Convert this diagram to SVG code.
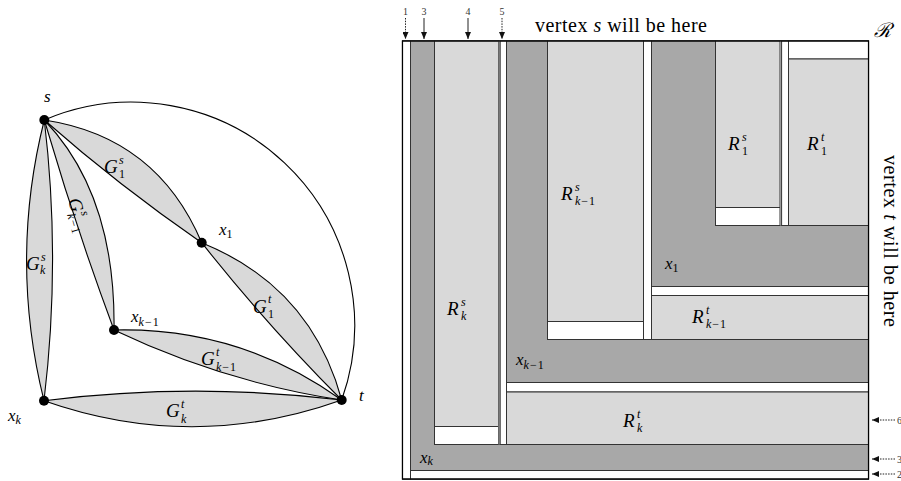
<svg xmlns="http://www.w3.org/2000/svg" width="901" height="481" viewBox="0 0 901 481">
<style>
  .lens { fill: #d9d9d9; stroke: #000; stroke-width: 1.1; }
  .edge { fill: none; stroke: #000; stroke-width: 1.1; }
  .node { fill: #000; }
  .m { font-family: 'Liberation Serif', serif; font-style: italic; font-size: 19px; fill: #000; }
  .sc { font-size: 12px; }
  .rm { font-style: normal; }
  .txt { font-family: 'Liberation Serif', serif; font-size: 20px; fill: #000; }
  .num { font-family: 'Liberation Serif', serif; font-size: 10px; fill: #333; }
  .dark { fill: #a8a8a8; stroke: #333; stroke-width: 1; }
  .light { fill: #d9d9d9; stroke: #333; stroke-width: 1; }
  .gap { fill: #fff; stroke: #333; stroke-width: 1; }
  .arr { stroke: #222; stroke-width: 1; fill: none; marker-end: url(#ah); }
  .dash { stroke-dasharray: 1.5 1.2; }
</style>
<defs>
  <marker id="ah" markerUnits="userSpaceOnUse" markerWidth="7" markerHeight="6" refX="7" refY="3" orient="auto">
    <path d="M0,0 L7,3 L0,6 Z" fill="#111"/>
  </marker>
</defs>
<rect width="901" height="481" fill="#fff"/>

<!-- Left: graph -->
<g id="connectors">
  <path class="edge" d="M44.3,120 A223,223 0 0 1 341.7,400"/>
  <path class="lens" d="M44.3,120 Q157,137 201.7,242.7 Q119.3,186 44.3,120 Z"/>
  <path class="lens" d="M201.7,242.7 Q311,287 341.7,400 Q267.2,325.4 201.7,242.7 Z"/>
  <path class="lens" d="M44.3,120 Q116,195 114,330 Q75.4,226.3 44.3,120 Z"/>
  <path class="lens" d="M44.3,120 Q61,260 44,400.7 Q9,260 44.3,120 Z"/>
  <path class="lens" d="M114,330 Q240,327 341.7,400 Q223,382 114,330 Z"/>
  <path class="lens" d="M44,400.7 Q193,382 341.7,400 Q193,453 44,400.7 Z"/>
</g>
<g id="edge-labels" font-family="Liberation Serif, serif" font-style="italic">
  <text class="m" x="104" y="173">G<tspan class="sc" x="119" y="164">s</tspan><tspan class="sc rm" x="119" y="178">1</tspan></text>
  <text class="m" x="253" y="313">G<tspan class="sc" x="268" y="303">t</tspan><tspan class="sc rm" x="268" y="318">1</tspan></text>
  <text class="m" x="26" y="270">G<tspan class="sc" x="41" y="261">s</tspan><tspan class="sc" x="40" y="274">k</tspan></text>
  <text class="m" x="201" y="365">G<tspan class="sc" x="216" y="356">t</tspan><tspan class="sc" x="216" y="371">k</tspan><tspan class="sc rm" dx="1">−</tspan><tspan class="sc rm" dx="1">1</tspan></text>
  <text class="m" x="166" y="417">G<tspan class="sc" x="181" y="408">t</tspan><tspan class="sc" x="181" y="423">k</tspan></text>
  <text class="m" transform="translate(68,200) rotate(74)" x="0" y="0">G<tspan class="sc" x="15" y="-9">s</tspan><tspan class="sc" x="14" y="5">k</tspan><tspan class="sc rm" dx="1">−</tspan><tspan class="sc rm" dx="1">1</tspan></text>
</g>
<g id="node-s" font-family="Liberation Serif, serif">
  <circle class="node" cx="44.3" cy="120" r="5"/>
  <text class="m" x="44" y="102" style="font-size:17px">s</text>
</g>
<g id="node-x1" font-family="Liberation Serif, serif">
  <circle class="node" cx="201.7" cy="242.7" r="5"/>
  <text class="m" x="219" y="235" style="font-size:17px">x<tspan class="sc rm" y="238">1</tspan></text>
</g>
<g id="node-xk-1" font-family="Liberation Serif, serif">
  <circle class="node" cx="114" cy="330" r="5"/>
  <text class="m" x="131" y="322" style="font-size:17px">x<tspan class="sc" y="326">k</tspan><tspan class="sc rm" dx="1">−</tspan><tspan class="sc rm" dx="1">1</tspan></text>
</g>
<g id="node-xk" font-family="Liberation Serif, serif">
  <circle class="node" cx="44" cy="400.7" r="5"/>
  <text class="m" x="8" y="421" style="font-size:17px">x<tspan class="sc" y="424">k</tspan></text>
</g>
<g id="node-t" font-family="Liberation Serif, serif">
  <circle class="node" cx="341.7" cy="400" r="5"/>
  <text class="m" x="359" y="401" style="font-size:17px">t</text>
</g>

<!-- Right: rectangle representation -->
<g id="rep">
  <rect x="402.5" y="41" width="466" height="438" fill="#fff" stroke="#000" stroke-width="1.2"/>
  <polygon class="dark" points="410.5,41 434.5,41 434.5,444.5 868.5,444.5 868.5,470.5 410.5,470.5"/>
  <rect class="light" x="434.5" y="41" width="64" height="385.5"/>
  <rect class="gap" x="434.5" y="426.5" width="64" height="18"/>
  <rect x="498.5" y="41" width="1.6" height="403.5" fill="#999"/>
  <rect class="gap" x="500.2" y="41" width="6.3" height="403.5"/>
  <polygon class="dark" points="506.5,41 547.5,41 547.5,339.5 868.5,339.5 868.5,382.5 506.5,382.5"/>
  <rect class="gap" x="506.5" y="382.5" width="362" height="9.5"/>
  <rect class="light" x="506.5" y="392" width="362" height="52.5"/>
  <rect class="light" x="547.5" y="41" width="96" height="280.5"/>
  <rect class="gap" x="547.5" y="321.5" width="96" height="18"/>
  <rect class="gap" x="643.5" y="41" width="8" height="298.5"/>
  <polygon class="dark" points="651.5,41 715.5,41 715.5,225.5 868.5,225.5 868.5,286.5 651.5,286.5"/>
  <rect class="gap" x="651.5" y="286.5" width="217" height="9"/>
  <rect class="light" x="651.5" y="295.5" width="217" height="44"/>
  <rect class="light" x="715.5" y="41" width="64.5" height="166.5"/>
  <rect class="gap" x="715.5" y="207.5" width="64.5" height="18"/>
  <rect x="780" y="41" width="1.6" height="184.5" fill="#999"/>
  <rect class="gap" x="781.6" y="41" width="6.9" height="184.5"/>
  <rect class="gap" x="788.5" y="41" width="80" height="18"/>
  <rect class="light" x="788.5" y="59" width="80" height="166.5"/>
  <rect class="gap" x="402.5" y="41" width="8" height="438"/>
  <rect class="gap" x="410.5" y="470.5" width="458" height="8.5"/>
  <rect x="402.5" y="41" width="466" height="438" fill="none" stroke="#000" stroke-width="1.2"/>
</g>
<g id="rep-labels" font-family="Liberation Serif, serif">
  <text class="m" x="728" y="150">R<tspan class="sc" x="742" y="141">s</tspan><tspan class="sc rm" x="742" y="155">1</tspan></text>
  <text class="m" x="807" y="150">R<tspan class="sc" x="821" y="141">t</tspan><tspan class="sc rm" x="821" y="155">1</tspan></text>
  <text class="m" x="561" y="200">R<tspan class="sc" x="575" y="191">s</tspan><tspan class="sc" x="575" y="205">k</tspan><tspan class="sc rm" dx="1">−</tspan><tspan class="sc rm" dx="1">1</tspan></text>
  <text class="m" x="665" y="268.5" style="font-size:17px">x<tspan class="sc rm" y="271.5">1</tspan></text>
  <text class="m" x="692" y="323">R<tspan class="sc" x="706" y="314">t</tspan><tspan class="sc" x="706" y="328">k</tspan><tspan class="sc rm" dx="1">−</tspan><tspan class="sc rm" dx="1">1</tspan></text>
  <text class="m" x="447" y="315">R<tspan class="sc" x="461" y="306">s</tspan><tspan class="sc" x="461" y="320">k</tspan></text>
  <text class="m" x="516" y="365" style="font-size:17px">x<tspan class="sc" y="369">k</tspan><tspan class="sc rm" dx="1">−</tspan><tspan class="sc rm" dx="1">1</tspan></text>
  <text class="m" x="623" y="427">R<tspan class="sc" x="637" y="418">t</tspan><tspan class="sc" x="637" y="432">k</tspan></text>
  <text class="m" x="420" y="462.5" style="font-size:17px">x<tspan class="sc" y="465">k</tspan></text>
  <text class="txt" x="535" y="32" textLength="172" lengthAdjust="spacing">vertex <tspan font-style="italic">s</tspan> will be here</text>
  <text class="txt" transform="translate(884,155) rotate(90)" x="0" y="0" textLength="172" lengthAdjust="spacing">vertex <tspan font-style="italic">t</tspan> will be here</text>
  <text class="m" x="874" y="37" style="font-size:20px">ℛ</text>
</g>
<g id="markers" font-family="Liberation Serif, serif">
  <text class="num" x="405.5" y="15" text-anchor="middle">1</text>
  <text class="num" x="424" y="15" text-anchor="middle">3</text>
  <text class="num" x="468" y="15" text-anchor="middle">4</text>
  <text class="num" x="502" y="15" text-anchor="middle">5</text>
  <line class="arr dash" x1="405.5" y1="18" x2="405.5" y2="39"/>
  <line class="arr" x1="424" y1="18" x2="424" y2="39"/>
  <line class="arr" x1="468" y1="18" x2="468" y2="39"/>
  <line class="arr dash" x1="502" y1="18" x2="502" y2="39"/>
  <line class="arr dash" x1="895" y1="420" x2="872" y2="420"/>
  <line class="arr dash" x1="895" y1="459" x2="872" y2="459"/>
  <line class="arr dash" x1="895" y1="474" x2="872" y2="474"/>
  <text class="num" x="897" y="423.5">6</text>
  <text class="num" x="897" y="462.5">3</text>
  <text class="num" x="897" y="477.5">2</text>
</g>
</svg>
